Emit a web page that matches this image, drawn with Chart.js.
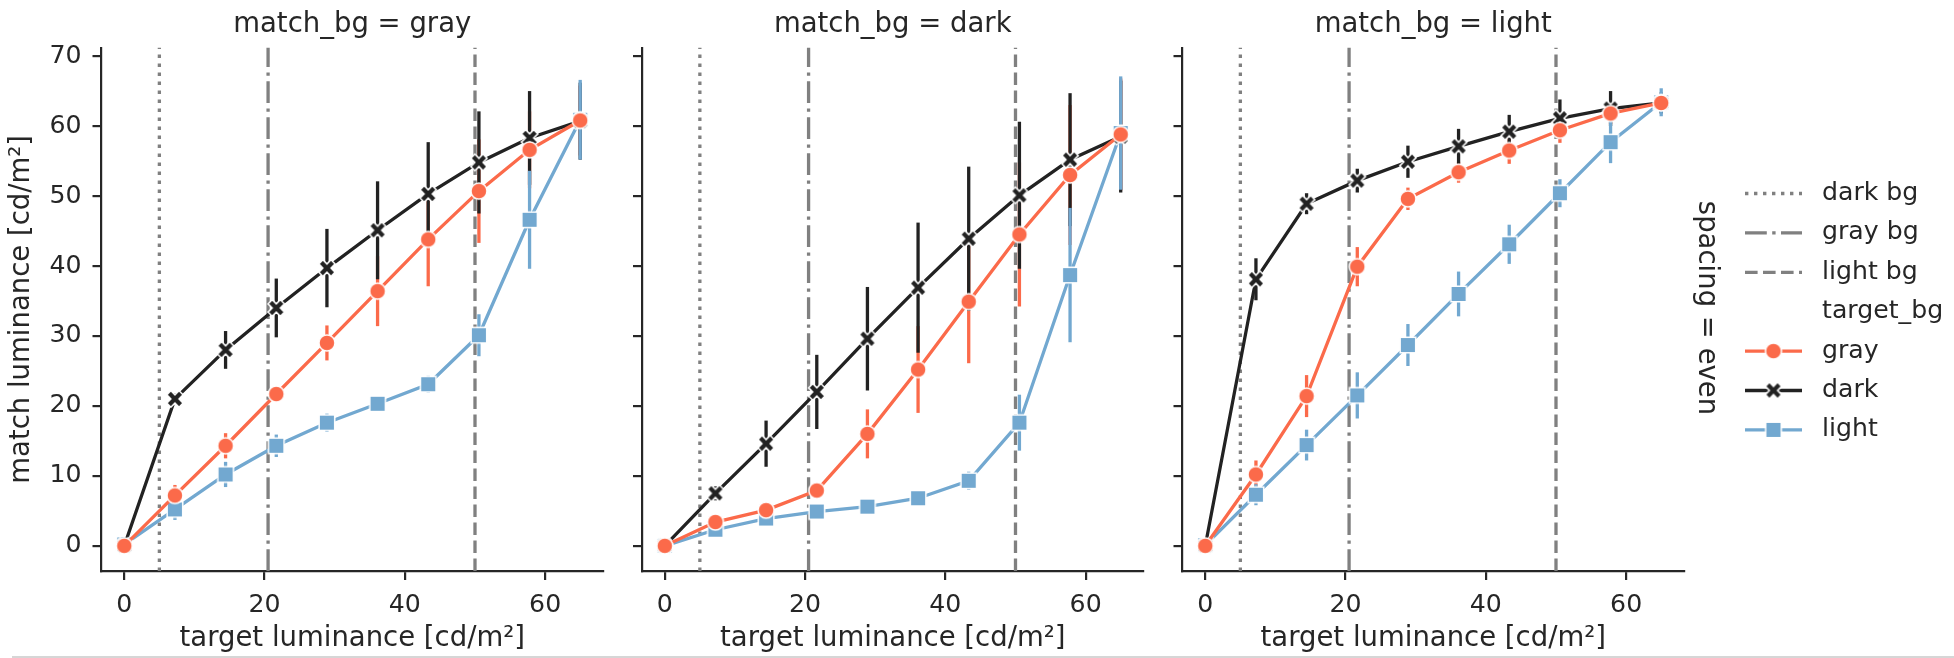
<!DOCTYPE html>
<html>
<head>
<meta charset="utf-8">
<script src="https://cdn.jsdelivr.net/npm/chart.js@4/dist/chart.umd.min.js"></script>
<style>
  body { margin: 0; background: #fff; }
  #wrap { position: relative; width: 1954px; height: 658px; overflow: hidden; }
  #wrap canvas { position: absolute; top: 0; }
  #rule { position: absolute; left: 12px; right: 0; top: 656px; height: 2px; background: #d6d6d6; }
</style>
</head>
<body>
<div id="wrap">
  <canvas id="p0" width="620" height="658" style="left:0px"></canvas>
  <canvas id="p1" width="540" height="658" style="left:620px"></canvas>
  <canvas id="p2" width="794" height="658" style="left:1160px"></canvas>
  <div id="rule"></div>
</div>
<script>
// target luminance steps shared by every facet
const targetLum = [0, 7.22, 14.44, 21.67, 28.89, 36.11, 43.33, 50.56, 57.78, 65];
const xTicks = [0, 20, 40, 60];
const yTicks = [0, 10, 20, 30, 40, 50, 60, 70];

// background luminance markers (vertical reference lines)
const refNames = ['dark bg', 'gray bg', 'light bg'];
const refValues = [5, 20.5, 50];

const facetNames = ['gray', 'dark', 'light'];
const targetNames = ['gray', 'dark', 'light'];

// match_bg = gray
const grayBgGray = [0, 7.2, 14.3, 21.7, 29.0, 36.4, 43.8, 50.7, 56.6, 60.8];
const grayBgGrayErr = [0.2, 1.5, 1.8, 1.0, 2.5, 5.0, 6.7, 7.4, 5.5, 5.0];
const grayBgDark = [0, 21.0, 28.0, 34.0, 39.7, 45.1, 50.3, 54.8, 58.3, 60.7];
const grayBgDarkErr = [0.2, 0.8, 2.7, 4.2, 5.6, 7.0, 7.4, 7.3, 6.7, 5.5];
const grayBgLight = [0.2, 5.2, 10.2, 14.3, 17.6, 20.3, 23.1, 30.1, 46.6, 60.9];
const grayBgLightErr = [0.3, 1.5, 1.8, 1.6, 1.3, 0.8, 1.2, 3.0, 7.0, 5.7];

// match_bg = dark
const darkBgGray = [0, 3.4, 5.1, 7.9, 16.0, 25.2, 34.9, 44.5, 53.0, 58.8];
const darkBgGrayErr = [0.2, 0.8, 0.8, 1.0, 3.5, 6.2, 8.8, 10.3, 10.0, 8.0];
const darkBgDark = [0, 7.5, 14.6, 22.0, 29.6, 36.9, 43.9, 50.1, 55.2, 58.5];
const darkBgDarkErr = [0.2, 1.0, 3.3, 5.3, 7.4, 9.3, 10.3, 10.5, 9.5, 8.0];
const darkBgLight = [0, 2.3, 3.9, 4.9, 5.6, 6.8, 9.3, 17.6, 38.7, 59.0];
const darkBgLightErr = [0.2, 0.6, 0.6, 0.6, 0.6, 0.6, 1.3, 4.0, 9.6, 8.1];

// match_bg = light
const lightBgGray = [0, 10.2, 21.4, 39.9, 49.6, 53.4, 56.5, 59.4, 61.8, 63.3];
const lightBgGrayErr = [0.2, 2.0, 3.0, 2.8, 1.6, 1.5, 1.9, 1.8, 1.5, 1.0];
const lightBgDark = [0, 38.1, 48.9, 52.2, 54.9, 57.1, 59.2, 61.1, 62.5, 63.3];
const lightBgDarkErr = [0.2, 3.0, 1.5, 1.7, 2.3, 2.5, 2.4, 2.7, 2.5, 1.5];
const lightBgLight = [0.1, 7.3, 14.4, 21.5, 28.7, 36.0, 43.1, 50.4, 57.7, 63.4];
const lightBgLightErr = [0.2, 1.5, 2.2, 3.3, 3.0, 3.2, 2.8, 2.0, 3.0, 2.0];

const facetData = [
  [[grayBgGray, grayBgGrayErr], [grayBgDark, grayBgDarkErr], [grayBgLight, grayBgLightErr]],
  [[darkBgGray, darkBgGrayErr], [darkBgDark, darkBgDarkErr], [darkBgLight, darkBgLightErr]],
  [[lightBgGray, lightBgGrayErr], [lightBgDark, lightBgDarkErr], [lightBgLight, lightBgLightErr]]
];

const FONT = 'DejaVu Sans';
const INK = '#262626';
const REF_COLOR = '#808080';
const LINE_COLORS = ['#fb6a4a', '#222222', '#72a8d0'];
const LW = 3.3;
const REF_DASHES = [[3.4, 5.6], [21.8, 5.4, 3.4, 5.4], [12.6, 5.4]];

Chart.defaults.font.family = FONT;
Chart.defaults.color = INK;

// filled markers with a white edge, seaborn style
function makeMarker(kind, color) {
  const s = 26, c = document.createElement('canvas');
  c.width = s; c.height = s;
  const g = c.getContext('2d');
  g.translate(s / 2, s / 2);
  g.beginPath();
  if (kind === 'circle') {
    g.arc(0, 0, 8, 0, Math.PI * 2);
  } else if (kind === 'square') {
    g.rect(-7.8, -7.8, 15.6, 15.6);
  } else {
    const u = 4.1;
    const pts = [[-1, -2], [0, -1], [1, -2], [2, -1], [1, 0], [2, 1], [1, 2], [0, 1], [-1, 2], [-2, 1], [-1, 0], [-2, -1]];
    pts.forEach((p, i) => i ? g.lineTo(p[0] * u, p[1] * u) : g.moveTo(p[0] * u, p[1] * u));
    g.closePath();
  }
  g.fillStyle = color;
  g.fill();
  g.lineWidth = 1.5;
  g.strokeStyle = '#ffffff';
  g.lineJoin = 'miter';
  g.stroke();
  return c;
}
const markers = [
  makeMarker('circle', LINE_COLORS[0]),
  makeMarker('x', LINE_COLORS[1]),
  makeMarker('square', LINE_COLORS[2])
];

const refLinesPlugin = {
  id: 'refLines',
  beforeDatasetsDraw(chart) {
    const {ctx, chartArea, scales} = chart;
    ctx.save();
    ctx.strokeStyle = REF_COLOR;
    ctx.lineWidth = LW;
    ctx.lineCap = 'butt';
    refValues.forEach((v, i) => {
      const px = scales.x.getPixelForValue(v);
      ctx.setLineDash(REF_DASHES[i]);
      ctx.beginPath();
      ctx.moveTo(px, chartArea.bottom);
      ctx.lineTo(px, chartArea.top);
      ctx.stroke();
    });
    ctx.restore();
  }
};

const errorBarsPlugin = {
  id: 'errorBars',
  beforeDatasetsDraw(chart) {
    const {ctx, scales} = chart;
    ctx.save();
    ctx.lineWidth = LW;
    chart.data.datasets.forEach(ds => {
      ctx.strokeStyle = ds.borderColor;
      ds.data.forEach((p, i) => {
        const e = ds.errors[i];
        const px = scales.x.getPixelForValue(p.x);
        ctx.beginPath();
        ctx.moveTo(px, scales.y.getPixelForValue(p.y - e));
        ctx.lineTo(px, scales.y.getPixelForValue(p.y + e));
        ctx.stroke();
      });
    });
    ctx.restore();
  }
};

const facetTitlePlugin = {
  id: 'facetTitle',
  afterDraw(chart, args, opts) {
    const {ctx, chartArea} = chart;
    ctx.save();
    ctx.font = '27.5px "' + FONT + '"';
    ctx.fillStyle = INK;
    ctx.textAlign = 'center';
    ctx.textBaseline = 'alphabetic';
    ctx.fillText(opts.text, (chartArea.left + chartArea.right) / 2, 31.5);
    ctx.restore();
  }
};

// row margin title and the combined legend, right of the last facet
const sideLegendPlugin = {
  id: 'sideLegend',
  afterDraw(chart, args, opts) {
    if (!opts.show) return;
    const {ctx, chartArea} = chart;
    const x0 = chartArea.right;
    ctx.save();
    ctx.fillStyle = INK;

    ctx.font = '27.5px "' + FONT + '"';
    ctx.textAlign = 'center';
    ctx.textBaseline = 'middle';
    ctx.translate(x0 + 22, 308);
    ctx.rotate(Math.PI / 2);
    ctx.fillText('spacing = even', 0, 0);
    ctx.setTransform(1, 0, 0, 1, 0, 0);

    const sx0 = x0 + 61, sx1 = x0 + 118, tx = x0 + 138;
    const rowY = i => 193.5 + i * 39.4;
    ctx.font = '25.2px "' + FONT + '"';
    ctx.textAlign = 'left';
    ctx.textBaseline = 'middle';
    refNames.forEach((name, i) => {
      const y = rowY(i);
      ctx.strokeStyle = REF_COLOR;
      ctx.lineWidth = LW;
      ctx.setLineDash(REF_DASHES[i]);
      ctx.beginPath(); ctx.moveTo(sx0, y); ctx.lineTo(sx1, y); ctx.stroke();
      ctx.fillText(name, tx, y);
    });
    ctx.setLineDash([]);
    ctx.fillText('target_bg', tx, rowY(3));
    targetNames.forEach((name, i) => {
      const y = rowY(4 + i);
      ctx.strokeStyle = LINE_COLORS[i];
      ctx.lineWidth = LW;
      ctx.beginPath(); ctx.moveTo(sx0, y); ctx.lineTo(sx1, y); ctx.stroke();
      const m = markers[i];
      ctx.drawImage(m, (sx0 + sx1) / 2 - m.width / 2, y - m.height / 2);
      ctx.fillText(name, tx, y);
    });
    ctx.restore();
  }
};

const frames = [
  {yAxisW: 101.5, padRight: 17},
  {yAxisW: 22, padRight: 16.5},
  {yAxisW: 22.5, padRight: 270}
];

facetNames.forEach((facet, f) => {
  const frame = frames[f];
  const datasets = targetNames.map((t, s) => ({
    label: t,
    data: targetLum.map((x, i) => ({x: x, y: facetData[f][s][0][i]})),
    errors: facetData[f][s][1],
    borderColor: LINE_COLORS[s],
    backgroundColor: LINE_COLORS[s],
    borderWidth: LW,
    pointStyle: markers[s],
    pointRadius: 8,
    tension: 0,
    fill: false
  }));

  new Chart(document.getElementById('p' + f), {
    type: 'line',
    data: {datasets: datasets},
    options: {
      responsive: false,
      animation: false,
      devicePixelRatio: 1,
      layout: {padding: {left: 0, right: frame.padRight, top: 47.7, bottom: 0}},
      plugins: {
        legend: {display: false},
        tooltip: {enabled: false},
        facetTitle: {text: 'match_bg = ' + facet},
        sideLegend: {show: f === 2}
      },
      scales: {
        x: {
          type: 'linear',
          min: -3.25,
          max: 68.25,
          afterBuildTicks: s => { s.ticks = xTicks.map(v => ({value: v})); },
          afterFit: s => { s.height = 87; },
          grid: {drawOnChartArea: false, drawTicks: true, tickLength: 9, tickWidth: 2.2, lineWidth: 2.2, tickColor: INK},
          border: {display: true, color: INK, width: 2.2},
          ticks: {color: INK, font: {size: 25.2}, padding: 10, maxRotation: 0, autoSkip: false},
          title: {display: true, text: 'target luminance [cd/m²]', color: INK, font: {size: 27.5}, padding: {top: 0, bottom: 3}}
        },
        y: {
          min: -3.6,
          max: 71.2,
          afterBuildTicks: s => { s.ticks = yTicks.map(v => ({value: v})); },
          afterFit: s => { s.width = frame.yAxisW; },
          grid: {drawOnChartArea: false, drawTicks: true, tickLength: 9, tickWidth: 2.2, lineWidth: 2.2, tickColor: INK},
          border: {display: true, color: INK, width: 2.2},
          ticks: {display: f === 0, color: INK, font: {size: 25.2}, padding: 11},
          title: {display: f === 0, text: 'match luminance [cd/m²]', color: INK, font: {size: 27.5}, padding: {top: 5, bottom: 0}}
        }
      }
    },
    plugins: [refLinesPlugin, errorBarsPlugin, facetTitlePlugin, sideLegendPlugin]
  });
});
</script>
</body>
</html>
